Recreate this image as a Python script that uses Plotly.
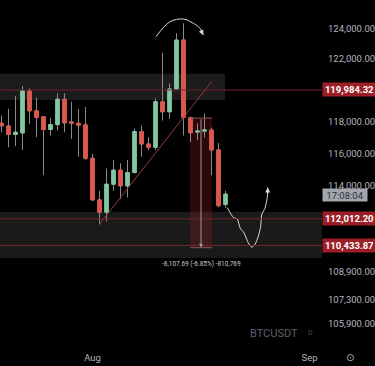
import math
import pandas as pd
import plotly.graph_objects as go

# ---------------- data ----------------
start_date = "2025-07-19"
opens = [117874, 117700, 117170, 117270, 119923, 118662, 118280, 117480, 117790, 119390, 117960,
         117874, 117770, 115690, 113150, 112410, 114100, 114960, 114000, 114810, 117350, 116577,
         116370, 119238, 118600, 120050, 123230, 118220, 117320, 117380, 117450, 116210, 112870]
highs = [118359, 118780, 119603, 120243, 120096, 119494, 118300, 118214, 119776, 119776, 119238,
         118770, 118900, 115960, 113700, 115070, 115580, 115380, 115585, 117525, 117730, 117000,
         119450, 122390, 120416, 123670, 124330, 118300, 117870, 118496, 117600, 116640, 113700]
lows = [117307, 116370, 116450, 116205, 117836, 117000, 114657, 117100, 117414, 117307, 116890,
        115790, 115600, 113090, 111680, 111850, 113700, 113200, 113290, 114780, 115790, 116200,
        116200, 118040, 118150, 120050, 117100, 116690, 116800, 116980, 114650, 112700, 112680]
closes = [117710, 117170, 117310, 119923, 118662, 118240, 117477, 117792, 119392, 117899, 117874,
          117750, 115690, 113153, 112411, 114100, 114958, 114000, 114810, 117356, 116577, 116370,
          119238, 118598, 120050, 123228, 118240, 117272, 117380, 117450, 116205, 112800, 113498]

price_ticks = [105900, 107300, 108900, 114000, 116000, 118000, 122000, 124000]
price_tick_text = ["105,900.00", "107,300.00", "108,900.00", "114,000.00", "116,000.00",
                   "118,000.00", "122,000.00", "124,000.00"]
time_ticks = ["2025-08-01", "2025-09-01"]
time_tick_text = ["Aug", "Sep"]

level_prices = [119984.32, 112012.20, 110433.87]
level_labels = ["119,984.32", "112,012.20", "110,433.87"]
upper_zone = [119340, 121027]          # price band
lower_zone = [109703, 112434]          # price band
measure_top, measure_bottom = 118200, 110300
measure_text = "-8,107.69 (-6.85%) -810,769"
countdown_text = "17:08:04"
countdown_price = 113455

# drawings (day offsets from start_date, price)
trend_days = [13.97, 30.03]
trend_prices = [111676, 120529]
arc_days = [22.07, 24.07, 25.97, 27.4, 28.36, 28.83]
arc_prices = [123446, 124436, 124615, 124330, 124000, 123557]
wave_days = [32.26, 33.11, 33.69, 34.07, 34.64, 35.26, 35.74, 36.21, 36.69, 37.03, 37.17, 37.64, 37.97, 38.03]
wave_prices = [112692, 112098, 112000, 111477, 111180, 110584, 110335, 110493, 110977, 111572,
               112260, 112650, 113300, 113900]

# ---------------- helpers ----------------
t0 = pd.Timestamp(start_date)
dates = pd.date_range(start_date, periods=len(opens), freq="D")


def d(days):
    return t0 + pd.to_timedelta(days, unit="D")


def L(p):
    return math.log10(p)


x_start = d(-1.5 / 7)
x_end = d(-1.5 / 7 + 322 / 7)
y_top = 5.09998
y_bot = 5.02026


def P(p):
    """price -> paper fraction on the log axis"""
    return (L(p) - y_bot) / (y_top - y_bot)


GREEN = "#7fc8a0"
RED = "#e0574a"
WICK = "#8a8a8a"
LINE_RED = "#6e2629"
LABEL_RED = "#9c1f27"
TXT = "#b2b5be"
FONT = "Roboto"

fig = go.Figure()

# candles: wicks grey, then bodies coloured
fig.add_trace(go.Candlestick(
    x=dates, open=opens, high=highs, low=lows, close=closes,
    increasing=dict(line=dict(color=WICK, width=1), fillcolor=GREEN),
    decreasing=dict(line=dict(color=WICK, width=1), fillcolor=RED),
    showlegend=False, hoverinfo="skip"))
fig.add_trace(go.Candlestick(
    x=dates, open=opens, close=closes,
    high=[max(o, c) for o, c in zip(opens, closes)],
    low=[min(o, c) for o, c in zip(opens, closes)],
    increasing=dict(line=dict(color=GREEN, width=1), fillcolor=GREEN),
    decreasing=dict(line=dict(color=RED, width=1), fillcolor=RED),
    showlegend=False, hoverinfo="skip"))

# trend line
fig.add_trace(go.Scatter(x=[d(v) for v in trend_days], y=trend_prices, mode="lines",
                         line=dict(color="#9a3a3a", width=1), showlegend=False, hoverinfo="skip"))
# arc over top
fig.add_trace(go.Scatter(x=[d(v) for v in arc_days], y=arc_prices, mode="lines",
                         line=dict(color="#d8d8d8", width=1, shape="spline"),
                         showlegend=False, hoverinfo="skip"))
# wave projection
fig.add_trace(go.Scatter(x=[d(v) for v in wave_days], y=wave_prices, mode="lines",
                         line=dict(color="#d8d8d8", width=1, shape="spline", smoothing=0.6),
                         showlegend=False, hoverinfo="skip"))

shapes = []
# zones
shapes.append(dict(type="rect", xref="x", yref="paper", x0=d(-5), x1=d((225 - 1.5) / 7),
                   y0=P(upper_zone[0]), y1=P(upper_zone[1]), fillcolor="#1c1c1c",
                   line=dict(width=0), layer="below"))
shapes.append(dict(type="rect", xref="paper", yref="paper", x0=0, x1=1,
                   y0=P(lower_zone[0]), y1=P(lower_zone[1]), fillcolor="#1a1a1a",
                   line=dict(width=0), layer="below"))
# measure shading
mx0, mx1 = d((190 - 1.5) / 7), d((212 - 1.5) / 7)
shapes.append(dict(type="rect", xref="x", yref="paper", x0=mx0, x1=mx1,
                   y0=P(measure_bottom), y1=P(measure_top),
                   fillcolor="rgba(150,25,35,0.30)", line=dict(width=0), layer="below"))
shapes.append(dict(type="line", xref="x", yref="paper", x0=mx0, x1=mx1,
                   y0=P(measure_top), y1=P(measure_top), line=dict(color="#8a5a5c", width=1)))
shapes.append(dict(type="line", xref="x", yref="paper", x0=mx0, x1=mx1,
                   y0=P(measure_bottom), y1=P(measure_bottom), line=dict(color="#8a5a5c", width=1)))
# horizontal levels
for p in level_prices:
    shapes.append(dict(type="line", xref="paper", yref="paper", x0=0, x1=1, y0=P(p), y1=P(p),
                       line=dict(color=LINE_RED, width=1)))

annotations = []
for p, txt in zip(level_prices, level_labels):
    annotations.append(dict(xref="paper", yref="paper", x=1, y=P(p), xanchor="left", yanchor="middle",
                            text=txt, showarrow=False, bgcolor=LABEL_RED, width=51, height=11,
                            borderpad=1, font=dict(color="white", size=9.5, family=FONT, weight="bold")))
annotations.append(dict(xref="paper", yref="paper", x=1, y=P(countdown_price), xanchor="left",
                        yanchor="middle", text=countdown_text, showarrow=False, bgcolor="#a3a6ad",
                        width=42, height=10, borderpad=1,
                        font=dict(color="#2a2e39", size=9.5, family=FONT)))
# measure vertical arrow
annotations.append(dict(xref="x", yref="paper", x=d((201 - 1.5) / 7), y=P(measure_bottom), ax=0, ay=-130,
                        text="", showarrow=True, arrowhead=2, arrowsize=0.8, arrowwidth=1,
                        arrowcolor="#9a9a9a"))
annotations.append(dict(xref="x", yref="paper", x=d((201 - 1.5) / 7), y=P(109700), yanchor="top",
                        text=measure_text,
                        showarrow=False, font=dict(color="#c8c8c8", size=6.5, family=FONT)))
# arrows at ends of drawings
annotations.append(dict(xref="x", yref="paper", x=d(arc_days[-1]), y=P(arc_prices[-1]), ax=-3, ay=-6,
                        text="", showarrow=True, arrowhead=2, arrowsize=1, arrowwidth=1,
                        arrowcolor="#d8d8d8"))
annotations.append(dict(xref="x", yref="paper", x=d(wave_days[-1]), y=P(wave_prices[-1]), ax=0, ay=8,
                        text="", showarrow=True, arrowhead=2, arrowsize=1, arrowwidth=1,
                        arrowcolor="#d8d8d8"))
# watermark & icon
annotations.append(dict(xref="paper", yref="paper", x=300 / 322, y=1 - 333 / 344, xanchor="right",
                        yanchor="middle", text="BTCUSDT", showarrow=False,
                        font=dict(color="#5d606b", size=11, family=FONT)))
annotations.append(dict(xref="paper", yref="paper", x=310 / 322, y=1 - 333 / 344, xanchor="center",
                        yanchor="middle", text="D", showarrow=False,
                        font=dict(color="#4a4d57", size=7, family=FONT)))
annotations.append(dict(xref="paper", yref="paper", x=350 / 322, y=-13 / 344, xanchor="center",
                        yanchor="middle", text="⊙", showarrow=False,
                        font=dict(color=TXT, size=10, family="DejaVu Sans")))

fig.update_layout(
    width=375, height=366,
    margin=dict(l=0, r=53, t=0, b=22, autoexpand=False),
    paper_bgcolor="#000000", plot_bgcolor="#000000",
    showlegend=False,
    shapes=shapes, annotations=annotations,
    xaxis=dict(range=[x_start, x_end], rangeslider=dict(visible=False), showgrid=False,
               zeroline=False, showline=False, tickvals=time_ticks, ticktext=time_tick_text,
               tickfont=dict(color=TXT, size=9.5, family=FONT), ticks="", automargin=False,
               ticklabelstandoff=6),
    yaxis=dict(type="log", range=[y_bot, y_top], side="right", showgrid=False, zeroline=False,
               showline=False, tickvals=price_ticks, ticktext=price_tick_text, ticks="",
               ticklabelstandoff=5, automargin=False,
               tickfont=dict(color=TXT, size=9.5, family=FONT)),
)

fig.write_html("out.html", config={"displayModeBar": False},
               post_script="document.body.style.margin='0px';document.body.style.background='#000';")
